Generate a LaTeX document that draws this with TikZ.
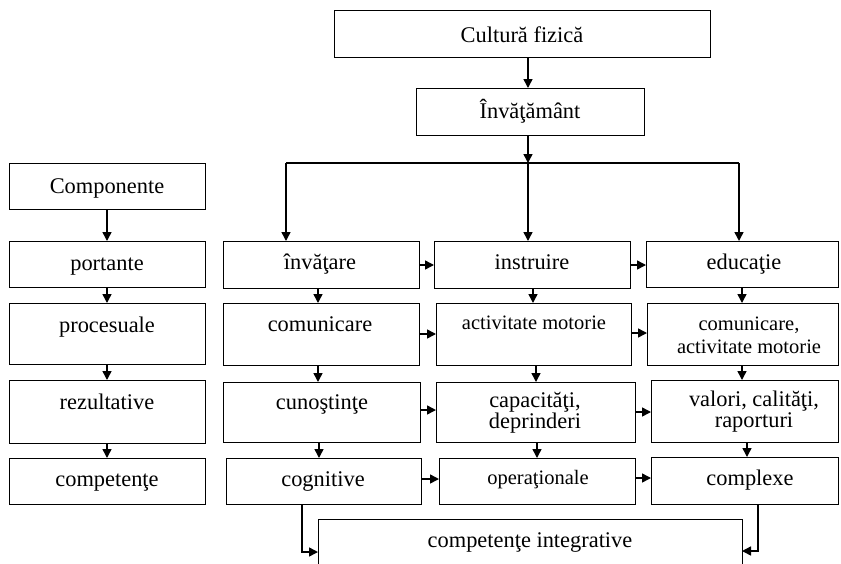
\documentclass[tikz,border=0pt]{standalone}
\usepackage{fontspec}
\setmainfont{Liberation Serif}
\usetikzlibrary{arrows.meta,fit}
\begin{document}
\begin{tikzpicture}[x=1pt,y=-1pt,
  box/.style={draw, line width=1pt, inner sep=0pt, outer sep=0pt},
  txt/.style={font=\fontsize{22.4}{21}\selectfont, inner sep=0pt, align=center, anchor=base},
  stxt/.style={font=\fontsize{20.5}{23}\selectfont, inner sep=0pt, align=center, anchor=base},
  arr/.style={line width=1.5pt, -{Triangle[length=9pt,width=9pt]}},
  bus/.style={line width=2pt},
]
\clip (0,0) rectangle (841,563);
\newcommand{\bx}[5]{\node[box, fit={(#2,#3) (#4,#5)}] (#1) {};}
% boxes
\bx{cf}{334}{10}{710}{57}
\bx{inv}{416}{88}{644}{135}
\bx{comp}{9}{163}{205}{209}
\bx{port}{9}{241}{205}{287}
\bx{proc}{9}{303}{205}{364}
\bx{rez}{9}{380}{205}{443}
\bx{compt}{9}{458}{205}{504}
\bx{a1}{223}{241}{419}{288}
\bx{a2}{223}{303}{419}{365}
\bx{a3}{223}{382}{420}{442}
\bx{a4}{226}{458}{421}{504}
\bx{b1}{434}{241}{630}{288}
\bx{b2}{436}{303}{631}{365}
\bx{b3}{436}{382}{635}{442}
\bx{b4}{439}{458}{635}{504}
\bx{c1}{646}{241}{838}{287}
\bx{c2}{647}{303}{838}{365}
\bx{c3}{651}{380}{838}{442}
\bx{c4}{651}{457}{838}{504}
\bx{ci}{318}{519}{742}{590}
% texts (anchored at the baseline of the last line)
\node[txt] (cf-t) at (522,42) {Cultură fizică};
\node[txt] (inv-t) at (530,118) {Învăţământ};
\node[txt] (comp-t) at (107,193) {Componente};
\node[txt] (port-t) at (107,270) {portante};
\node[txt] (proc-t) at (107,332) {procesuale};
\node[txt] (rez-t) at (107,409) {rezultative};
\node[txt] (compt-t) at (107,486) {competenţe};
\node[txt] (a1-t) at (320,269) {învăţare};
\node[txt] (a2-t) at (320,331) {comunicare};
\node[txt] (a3-t) at (322,409) {cunoştinţe};
\node[txt] (a4-t) at (323,486) {cognitive};
\node[txt] (b1-t) at (532,269) {instruire};
\node[stxt] (b2-t) at (534,329) {activitate motorie};
\node[txt] (b3-t) at (535,428) {capacităţi,\\deprinderi};
\node[stxt] (b4-t) at (538,484) {operaţionale};
\node[txt] (c1-t) at (744,269) {educaţie};
\node[stxt] (c2-t) at (749,353) {comunicare,\\activitate motorie};
\node[txt] (c3-t) at (754,427) {valori, calităţi,\\raporturi};
\node[txt] (c4-t) at (750,485) {complexe};
\node[txt] (ci-t) at (530,547) {competenţe integrative};
% top connectors
\coordinate (split) at (528,163);
\coordinate (hl) at (286,163);
\coordinate (hr) at (739,163);
\draw[arr] (cf.south -| split) -- (inv.north -| split);
\draw[arr] (inv.south -| split) -- (split);
\draw[bus] (hl) -- (hr);
\draw[arr] (hl) -- (a1.north -| hl);
\draw[arr] (split) -- (b1.north -| split);
\draw[arr] (hr) -- (c1.north -| hr);
% left column
\draw[arr] (comp.south) -- (port.north);
\draw[arr] (port.south) -- (proc.north);
\draw[arr] (proc.south) -- (rez.north);
\draw[arr] (rez.south) -- (compt.north);
% column 1
\draw[arr] (a1.south -| 318,0) -- (a2.north -| 318,0);
\draw[arr] (a2.south -| 318,0) -- (a3.north -| 318,0);
\draw[arr] (a3.south -| 319,0) -- (a4.north -| 319,0);
% column 2
\draw[arr] (b1.south -| 533,0) -- (b2.north -| 533,0);
\draw[arr] (b2.south -| 536,0) -- (b3.north -| 536,0);
\draw[arr] (b3.south -| 537,0) -- (b4.north -| 537,0);
% column 3
\draw[arr] (c1.south -| 742,0) -- (c2.north -| 742,0);
\draw[arr] (c2.south -| 742,0) -- (c3.north -| 742,0);
\draw[arr] (c3.south -| 747,0) -- (c4.north -| 747,0);
% horizontal
\draw[arr] (a1.east |- 0,265) -- (b1.west |- 0,265);
\draw[arr] (a2.east |- 0,334) -- (b2.west |- 0,334);
\draw[arr] (a3.east |- 0,410) -- (b3.west |- 0,410);
\draw[arr] (a4.east |- 0,479) -- (b4.west |- 0,479);
\draw[arr] (b1.east |- 0,265) -- (c1.west |- 0,265);
\draw[arr] (b2.east |- 0,333) -- (c2.west |- 0,333);
\draw[arr] (b3.east |- 0,412) -- (c3.west |- 0,412);
\draw[arr] (b4.east |- 0,478) -- (c4.west |- 0,478);
% bottom
\draw[arr] (a4.south -| 302,0) |- (ci.west |- 0,552);
\draw[arr] (c4.south -| 758,0) |- (ci.east |- 0,551);
\end{tikzpicture}
\end{document}
